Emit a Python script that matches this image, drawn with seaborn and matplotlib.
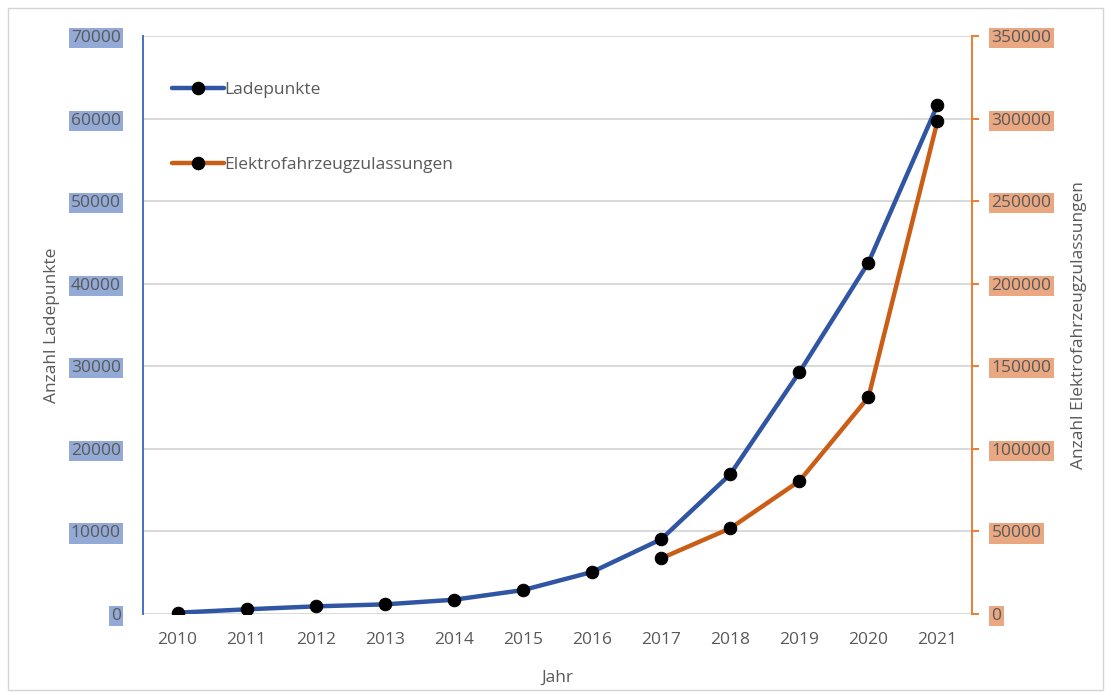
import matplotlib
matplotlib.use("Agg")
import matplotlib.pyplot as plt
import matplotlib.patches as mpatches
import seaborn as sns
import pandas as pd
import numpy as np

# Data
jahre = [2010, 2011, 2012, 2013, 2014, 2015, 2016, 2017, 2018, 2019, 2020, 2021]
ladepunkte = [160, 570, 930, 1170, 1730, 2900, 5090, 9050, 16920, 29270, 42550, 61650]
ev_jahre = [2017, 2018, 2019, 2020, 2021]
ev_zulassungen = [33700, 51900, 80500, 131200, 298500]

left_ticks = [0, 10000, 20000, 30000, 40000, 50000, 60000, 70000]
right_ticks = [0, 50000, 100000, 150000, 200000, 250000, 300000, 350000]

df_lp = pd.DataFrame({"Jahr": jahre, "Anzahl": ladepunkte})
df_ev = pd.DataFrame({"Jahr": ev_jahre, "Anzahl": ev_zulassungen})

sns.set_theme(style="white")
plt.rcParams["font.family"] = ["Open Sans", "DejaVu Sans"]

TEXT = "#595959"
BLUE_LINE = "#2F55A3"
ORANGE_LINE = "#CB5E17"
BLUE_AXIS = "#4472C4"
ORANGE_AXIS = "#ED7D31"
BLUE_BOX = "#93AAD6"
ORANGE_BOX = "#EAA882"
GRID = "#D9D9D9"
FS = 12.5

fig = plt.figure(figsize=(11.11, 6.98), dpi=100)
ax = fig.add_axes([0.1287, 0.1203, 0.8749 - 0.1287, 0.9484 - 0.1203])
ax2 = ax.twinx()

sns.lineplot(data=df_lp, x="Jahr", y="Anzahl", ax=ax, color=BLUE_LINE, lw=3.2,
             marker="o", markersize=9, markerfacecolor="black",
             markeredgecolor="black", label="Ladepunkte", legend=False)
sns.lineplot(data=df_ev, x="Jahr", y="Anzahl", ax=ax2, color=ORANGE_LINE, lw=3.2,
             marker="o", markersize=9, markerfacecolor="black",
             markeredgecolor="black", label="Elektrofahrzeugzulassungen", legend=False)

ax.set_xlim(jahre[0] - 0.5, jahre[-1] + 0.5)
ax.set_ylim(0, 70000)
ax2.set_ylim(0, 350000)

ax.set_xticks(jahre)
ax.set_xticklabels([str(j) for j in jahre])
ax.set_yticks(left_ticks)
ax.set_yticklabels([str(v) for v in left_ticks])
ax2.set_yticks(right_ticks)
ax2.set_yticklabels([str(v) for v in right_ticks])

# grid
ax.yaxis.grid(True, color=GRID, lw=1.4)
ax.xaxis.grid(False)
ax.set_axisbelow(True)

# spines
for s in ["top", "right", "bottom"]:
    ax.spines[s].set_visible(False)
for s in ["top", "left", "bottom"]:
    ax2.spines[s].set_visible(False)
ax.spines["left"].set_color(BLUE_AXIS)
ax.spines["left"].set_linewidth(1.4)
ax2.spines["right"].set_color(ORANGE_AXIS)
ax2.spines["right"].set_linewidth(1.4)

ax.tick_params(axis="x", length=0, pad=13, labelsize=FS, labelcolor=TEXT)
ax.tick_params(axis="y", length=0, pad=16, labelsize=FS, labelcolor=TEXT)
ax2.tick_params(axis="y", direction="out", length=5, width=1.4, color=ORANGE_AXIS,
                pad=9, labelsize=FS, labelcolor=TEXT)

for lab in ax.get_yticklabels():
    lab.set_bbox(dict(facecolor=BLUE_BOX, edgecolor="none", pad=1.5))
for lab in ax2.get_yticklabels():
    lab.set_bbox(dict(facecolor=ORANGE_BOX, edgecolor="none", pad=1.5))

ax.set_xlabel("Jahr", fontsize=FS, color=TEXT, labelpad=16)
ax.set_ylabel("Anzahl Ladepunkte", fontsize=FS, color=TEXT, labelpad=8)
ax2.set_ylabel("Anzahl Elektrofahrzeugzulassungen", fontsize=FS, color=TEXT, labelpad=14)

# combined legend
h1, l1 = ax.get_legend_handles_labels()
h2, l2 = ax2.get_legend_handles_labels()
leg = ax.legend(h1 + h2, l1 + l2, loc="upper left", bbox_to_anchor=(0.016, 0.948),
                frameon=False, fontsize=FS, labelcolor=TEXT, handlelength=3.0,
                handletextpad=0.0, labelspacing=3.4, numpoints=1)
leg.set_zorder(5)

# outer frame
fig.patches.append(mpatches.Rectangle((8 / 1111, 8 / 698), 1095 / 1111, 682 / 698,
                                      transform=fig.transFigure, fill=False,
                                      edgecolor="#D4D4D4", lw=1.0))

fig.savefig("out.png", dpi=100, facecolor="white")
